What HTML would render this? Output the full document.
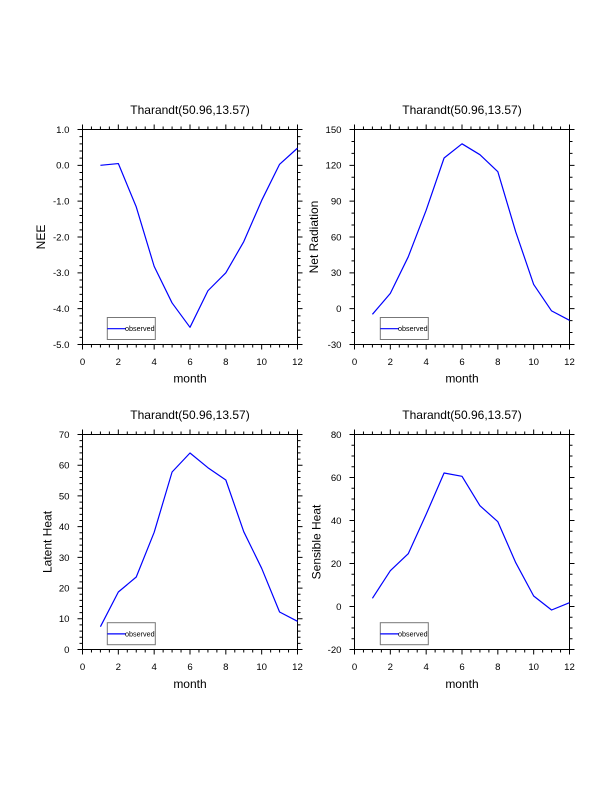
<!DOCTYPE html>
<html>
<head>
<meta charset="utf-8">
<style>
html,body{margin:0;padding:0;background:#fff;}
svg{display:block;}
text{font-family:"Liberation Sans",Arial,Helvetica,sans-serif;fill:#000;}
.tl{font-size:9.6px;}
.tt{font-size:12px;}
.ax{font-size:12px;}
.lg{font-size:7.2px;}
</style>
</head>
<body>
<svg width="612" height="792" viewBox="0 0 612 792" xmlns="http://www.w3.org/2000/svg">
<rect x="0" y="0" width="612" height="792" fill="#fff"/>
<defs>
  <path id="xt" fill="none" stroke="#000" stroke-width="1" d="M0 215v5M35.83 215v5M71.67 215v5M107.5 215v5M143.33 215v5M179.17 215v5M215 215v5M0 0v-5M35.83 0v-5M71.67 0v-5M107.5 0v-5M143.33 0v-5M179.17 0v-5M215 0v-5M8.96 215v3M17.92 215v3M26.88 215v3M44.79 215v3M53.75 215v3M62.71 215v3M80.63 215v3M89.58 215v3M98.54 215v3M116.46 215v3M125.42 215v3M134.38 215v3M152.29 215v3M161.25 215v3M170.21 215v3M188.13 215v3M197.08 215v3M206.04 215v3M8.96 0v-3M17.92 0v-3M26.88 0v-3M44.79 0v-3M53.75 0v-3M62.71 0v-3M80.63 0v-3M89.58 0v-3M98.54 0v-3M116.46 0v-3M125.42 0v-3M134.38 0v-3M152.29 0v-3M161.25 0v-3M170.21 0v-3M188.13 0v-3M197.08 0v-3M206.04 0v-3"/>
  <path id="ymaj6" fill="none" stroke="#000" stroke-width="1" d="M0 0h-5M0 35.83h-5M0 71.67h-5M0 107.5h-5M0 143.33h-5M0 179.17h-5M0 215h-5M215 0h5M215 35.83h5M215 71.67h5M215 107.5h5M215 143.33h5M215 179.17h5M215 215h5"/>
  <rect id="frame" x="0" y="0" width="215" height="215" fill="none" stroke="#000" stroke-width="1"/>
</defs>

<!-- Panel 1: NEE -->
<g transform="translate(82.5,129.5)">
  <use href="#frame"/>
  <use href="#xt"/>
  <use href="#ymaj6"/>
  <path fill="none" stroke="#000" stroke-width="1" d="M0 7.17h-3M0 14.33h-3M0 21.5h-3M0 28.67h-3M0 43h-3M0 50.17h-3M0 57.33h-3M0 64.5h-3M0 78.83h-3M0 86h-3M0 93.17h-3M0 100.33h-3M0 114.67h-3M0 121.83h-3M0 129h-3M0 136.17h-3M0 150.5h-3M0 157.67h-3M0 164.83h-3M0 172h-3M0 186.33h-3M0 193.5h-3M0 200.67h-3M0 207.83h-3M215 7.17h3M215 14.33h3M215 21.5h3M215 28.67h3M215 43h3M215 50.17h3M215 57.33h3M215 64.5h3M215 78.83h3M215 86h3M215 93.17h3M215 100.33h3M215 114.67h3M215 121.83h3M215 129h3M215 136.17h3M215 150.5h3M215 157.67h3M215 164.83h3M215 172h3M215 186.33h3M215 193.5h3M215 200.67h3M215 207.83h3"/>
  <g class="tl" text-anchor="end">
    <text x="-13" y="3.4">1.0</text>
    <text x="-13" y="39.23">0.0</text>
    <text x="-13" y="75.07">-1.0</text>
    <text x="-13" y="110.9">-2.0</text>
    <text x="-13" y="146.73">-3.0</text>
    <text x="-13" y="182.57">-4.0</text>
    <text x="-13" y="218.4">-5.0</text>
  </g>
  <g class="tl" text-anchor="middle">
    <text x="0" y="235.7">0</text>
    <text x="35.83" y="235.7">2</text>
    <text x="71.67" y="235.7">4</text>
    <text x="107.5" y="235.7">6</text>
    <text x="143.33" y="235.7">8</text>
    <text x="179.17" y="235.7">10</text>
    <text x="215" y="235.7">12</text>
  </g>
  <text class="tt" x="107.5" y="-15.5" text-anchor="middle">Tharandt(50.96,13.57)</text>
  <text class="ax" x="107.5" y="252.8" text-anchor="middle">month</text>
  <text class="ax" transform="translate(-37.5,107.5) rotate(-90)" text-anchor="middle">NEE</text>
  <polyline fill="none" stroke="#0000ff" stroke-width="1.2" stroke-linejoin="round" points="17.92,35.83 35.83,34.04 53.75,77.4 71.67,136.88 89.58,173.43 107.5,197.8 125.42,161.25 143.33,143.33 161.25,112.16 179.17,70.95 197.08,34.76 215,18.63"/>
  <rect x="24.8" y="188" width="48" height="22" fill="#fff" stroke="#777" stroke-width="1"/>
  <path d="M24.8 199.2H43" stroke="#0000ff" stroke-width="1.2"/>
  <text class="lg" x="42.5" y="201.6">observed</text>
</g>

<!-- Panel 2: Net Radiation -->
<g transform="translate(354.5,129.5)">
  <use href="#frame"/>
  <use href="#xt"/>
  <use href="#ymaj6"/>
  <path fill="none" stroke="#000" stroke-width="1" d="M0 11.94h-3M0 23.89h-3M0 47.78h-3M0 59.72h-3M0 83.61h-3M0 95.56h-3M0 119.44h-3M0 131.39h-3M0 155.28h-3M0 167.22h-3M0 191.11h-3M0 203.06h-3M215 11.94h3M215 23.89h3M215 47.78h3M215 59.72h3M215 83.61h3M215 95.56h3M215 119.44h3M215 131.39h3M215 155.28h3M215 167.22h3M215 191.11h3M215 203.06h3"/>
  <g class="tl" text-anchor="end">
    <text x="-13" y="3.4">150</text>
    <text x="-13" y="39.23">120</text>
    <text x="-13" y="75.07">90</text>
    <text x="-13" y="110.9">60</text>
    <text x="-13" y="146.73">30</text>
    <text x="-13" y="182.57">0</text>
    <text x="-13" y="218.4">-30</text>
  </g>
  <g class="tl" text-anchor="middle">
    <text x="0" y="235.7">0</text>
    <text x="35.83" y="235.7">2</text>
    <text x="71.67" y="235.7">4</text>
    <text x="107.5" y="235.7">6</text>
    <text x="143.33" y="235.7">8</text>
    <text x="179.17" y="235.7">10</text>
    <text x="215" y="235.7">12</text>
  </g>
  <text class="tt" x="107.5" y="-15.5" text-anchor="middle">Tharandt(50.96,13.57)</text>
  <text class="ax" x="107.5" y="252.8" text-anchor="middle">month</text>
  <text class="ax" transform="translate(-36.5,107.5) rotate(-90)" text-anchor="middle">Net Radiation</text>
  <polyline fill="none" stroke="#0000ff" stroke-width="1.2" stroke-linejoin="round" points="17.92,184.8 35.83,163.9 53.75,127.3 71.67,80.7 89.58,28.5 107.5,14.3 125.42,25.2 143.33,42.2 161.25,102.4 179.17,154.9 197.08,181.4 215,190.8"/>
  <rect x="25.8" y="188" width="48" height="22" fill="#fff" stroke="#777" stroke-width="1"/>
  <path d="M25.8 199.2H44" stroke="#0000ff" stroke-width="1.2"/>
  <text class="lg" x="43.5" y="201.6">observed</text>
</g>

<!-- Panel 3: Latent Heat -->
<g transform="translate(82.5,434.5)">
  <use href="#frame"/>
  <use href="#xt"/>
  <path fill="none" stroke="#000" stroke-width="1" d="M0 0h-5M0 30.71h-5M0 61.43h-5M0 92.14h-5M0 122.86h-5M0 153.57h-5M0 184.29h-5M0 215h-5M215 0h5M215 30.71h5M215 61.43h5M215 92.14h5M215 122.86h5M215 153.57h5M215 184.29h5M215 215h5"/>
  <path fill="none" stroke="#000" stroke-width="1" d="M0 6.14h-3M0 12.29h-3M0 18.43h-3M0 24.57h-3M0 36.86h-3M0 43h-3M0 49.14h-3M0 55.29h-3M0 67.57h-3M0 73.71h-3M0 79.86h-3M0 86h-3M0 98.29h-3M0 104.43h-3M0 110.57h-3M0 116.71h-3M0 129h-3M0 135.14h-3M0 141.29h-3M0 147.43h-3M0 159.71h-3M0 165.86h-3M0 172h-3M0 178.14h-3M0 190.43h-3M0 196.57h-3M0 202.71h-3M0 208.86h-3M215 6.14h3M215 12.29h3M215 18.43h3M215 24.57h3M215 36.86h3M215 43h3M215 49.14h3M215 55.29h3M215 67.57h3M215 73.71h3M215 79.86h3M215 86h3M215 98.29h3M215 104.43h3M215 110.57h3M215 116.71h3M215 129h3M215 135.14h3M215 141.29h3M215 147.43h3M215 159.71h3M215 165.86h3M215 172h3M215 178.14h3M215 190.43h3M215 196.57h3M215 202.71h3M215 208.86h3"/>
  <g class="tl" text-anchor="end">
    <text x="-13" y="3.4">70</text>
    <text x="-13" y="34.11">60</text>
    <text x="-13" y="64.83">50</text>
    <text x="-13" y="95.54">40</text>
    <text x="-13" y="126.26">30</text>
    <text x="-13" y="156.97">20</text>
    <text x="-13" y="187.69">10</text>
    <text x="-13" y="218.4">0</text>
  </g>
  <g class="tl" text-anchor="middle">
    <text x="0" y="235.7">0</text>
    <text x="35.83" y="235.7">2</text>
    <text x="71.67" y="235.7">4</text>
    <text x="107.5" y="235.7">6</text>
    <text x="143.33" y="235.7">8</text>
    <text x="179.17" y="235.7">10</text>
    <text x="215" y="235.7">12</text>
  </g>
  <text class="tt" x="107.5" y="-15.5" text-anchor="middle">Tharandt(50.96,13.57)</text>
  <text class="ax" x="107.5" y="253.3" text-anchor="middle">month</text>
  <text class="ax" transform="translate(-30.8,107.5) rotate(-90)" text-anchor="middle">Latent Heat</text>
  <polyline fill="none" stroke="#0000ff" stroke-width="1.2" stroke-linejoin="round" points="17.92,192.2 35.83,157.5 53.75,142.5 71.67,97.8 89.58,37.5 107.5,18.5 125.42,33.2 143.33,45.5 161.25,97.2 179.17,133.8 197.08,177.5 215,186.8"/>
  <rect x="24.8" y="188.2" width="48" height="22" fill="#fff" stroke="#777" stroke-width="1"/>
  <path d="M24.8 199.4H43" stroke="#0000ff" stroke-width="1.2"/>
  <text class="lg" x="42.5" y="201.8">observed</text>
</g>

<!-- Panel 4: Sensible Heat -->
<g transform="translate(354.5,434.5)">
  <use href="#frame"/>
  <use href="#xt"/>
  <path fill="none" stroke="#000" stroke-width="1" d="M0 0h-5M0 43h-5M0 86h-5M0 129h-5M0 172h-5M0 215h-5M215 0h5M215 43h5M215 86h5M215 129h5M215 172h5M215 215h5"/>
  <path fill="none" stroke="#000" stroke-width="1" d="M0 10.75h-3M0 21.5h-3M0 32.25h-3M0 53.75h-3M0 64.5h-3M0 75.25h-3M0 96.75h-3M0 107.5h-3M0 118.25h-3M0 139.75h-3M0 150.5h-3M0 161.25h-3M0 182.75h-3M0 193.5h-3M0 204.25h-3M215 10.75h3M215 21.5h3M215 32.25h3M215 53.75h3M215 64.5h3M215 75.25h3M215 96.75h3M215 107.5h3M215 118.25h3M215 139.75h3M215 150.5h3M215 161.25h3M215 182.75h3M215 193.5h3M215 204.25h3"/>
  <g class="tl" text-anchor="end">
    <text x="-13" y="3.4">80</text>
    <text x="-13" y="46.4">60</text>
    <text x="-13" y="89.4">40</text>
    <text x="-13" y="132.4">20</text>
    <text x="-13" y="175.4">0</text>
    <text x="-13" y="218.4">-20</text>
  </g>
  <g class="tl" text-anchor="middle">
    <text x="0" y="235.7">0</text>
    <text x="35.83" y="235.7">2</text>
    <text x="71.67" y="235.7">4</text>
    <text x="107.5" y="235.7">6</text>
    <text x="143.33" y="235.7">8</text>
    <text x="179.17" y="235.7">10</text>
    <text x="215" y="235.7">12</text>
  </g>
  <text class="tt" x="107.5" y="-15.5" text-anchor="middle">Tharandt(50.96,13.57)</text>
  <text class="ax" x="107.5" y="253.3" text-anchor="middle">month</text>
  <text class="ax" transform="translate(-33.8,107.5) rotate(-90)" text-anchor="middle">Sensible Heat</text>
  <polyline fill="none" stroke="#0000ff" stroke-width="1.2" stroke-linejoin="round" points="17.92,163.8 35.83,136.2 53.75,119.2 71.67,79.8 89.58,38.5 107.5,41.8 125.42,71.2 143.33,87.2 161.25,128.2 179.17,161.5 197.08,175.5 215,168.2"/>
  <rect x="25.8" y="188.2" width="48" height="22" fill="#fff" stroke="#777" stroke-width="1"/>
  <path d="M25.8 199.4H44" stroke="#0000ff" stroke-width="1.2"/>
  <text class="lg" x="43.5" y="201.8">observed</text>
</g>
</svg>
</body>
</html>
